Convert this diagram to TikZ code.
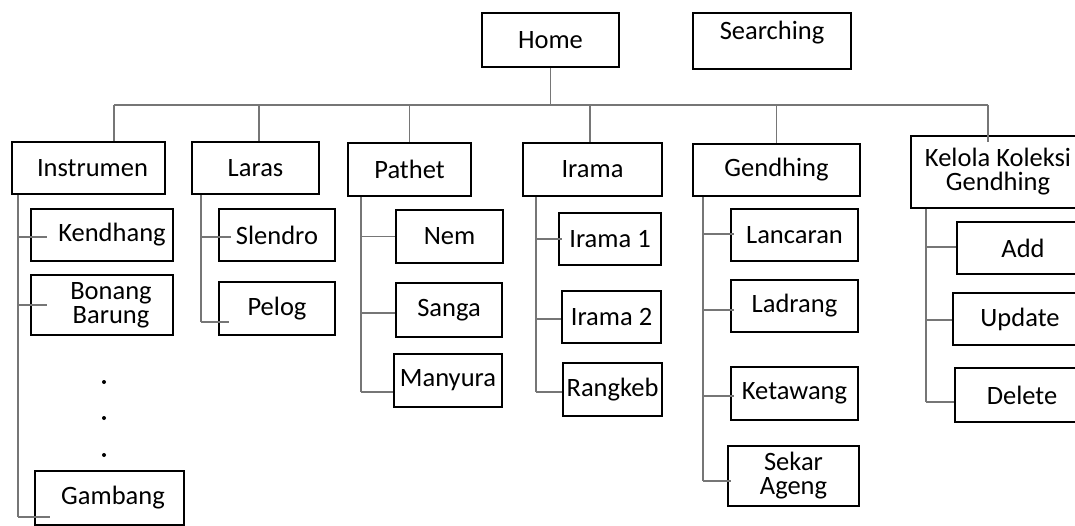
\documentclass[tikz,border=0pt]{standalone}
\usepackage{fontspec}
\setmainfont{Carlito}
\usepackage{tikz}
\usetikzlibrary{positioning}
\definecolor{link-grey}{HTML}{767676}
\newcommand{\branch}[4]{%  \branch{trunk}{node}{dy}{poke}
  \draw[link] ([yshift=#3]#2.west -| #1) -- ([xshift=#4,yshift=#3]#2.west);}

\begin{document}
\begin{tikzpicture}[x=1pt, y=-1pt,
    box/.style={draw=black, line width=1.9pt, inner sep=2pt, align=center,
                font=\fontsize{26.5}{24}\selectfont},
    link/.style={draw=link-grey, line width=1.4pt}]
        \useasboundingbox (0,0) rectangle (1075,526);
        \clip (0,0) rectangle (1075,526);

        % ── top row ──
        \node[box, minimum width=137pt, minimum height=54pt] (home) at (550.5,40) {Home};
        \node[box, minimum width=158pt, minimum height=56pt, text depth=21pt]
              (search) at (772,41) {Searching};

        % ── menu row ──
        \node[box, minimum width=153pt, minimum height=52pt] (instr) at (88.5,168) {\hspace*{8pt}Instrumen};
        \node[box, minimum width=127pt, minimum height=52pt] (laras) at (255.5,168) {Laras};
        \node[box, minimum width=123pt, minimum height=53pt] (pathet) at (409.5,169.5) {Pathet};
        \node[box, minimum width=139pt, minimum height=53pt] (irama) at (592.5,169.5) {Irama};
        \node[box, minimum width=167pt, minimum height=52pt] (gendhing) at (776.5,170) {Gendhing};
        \node[box, minimum width=174pt, minimum height=72pt] (kelola) at (998,172)
              {Kelola Koleksi\\Gendhing};

        % ── bus from Home ──
        \coordinate (bus) at (0,105);
        \draw[link] (home.south) -- (home.south |- bus);
        \draw[link] ([xshift=25.5pt]instr.north |- bus) -- ([xshift=-10pt]kelola.north |- bus);
        \draw[link] ([xshift=25.5pt]instr.north |- bus) -- ([xshift=25.5pt]instr.north);
        \draw[link] ([xshift=3.5pt]laras.north |- bus) -- ([xshift=3.5pt]laras.north);
        \draw[link] (pathet.north |- bus) -- (pathet.north);
        \draw[link] ([xshift=-2.5pt]irama.north |- bus) -- ([xshift=-2.5pt]irama.north);
        \draw[link] (gendhing.north |- bus) -- (gendhing.north);
        \draw[link] ([xshift=-10pt]kelola.north |- bus) -- ([xshift=-10pt,yshift=-7pt]kelola.north);

        % ── Instrumen ──
        \node[box, minimum width=142pt, minimum height=52pt] (kendhang) at (102,235) {\hspace*{20pt}Kendhang};
        \node[box, minimum width=142pt, minimum height=60pt] (bonang) at (102,305)
              {\hspace*{18pt}Bonang\\\hspace*{18pt}Barung};
        \node[box, minimum width=149pt, minimum height=54pt] (gambang) at (109.5,498) {\hspace*{7pt}Gambang};
        \foreach \y in {382,418,455}
          \fill (104,\y) circle (2pt);
        \coordinate (t1) at ([xshift=7pt]instr.south west);
        \draw[link] (t1) -- ([yshift=-19pt]gambang.west -| t1);
        \branch{t1}{kendhang}{-2pt}{17pt}
        \branch{t1}{bonang}{0pt}{17pt}
        \branch{t1}{gambang}{-19pt}{16pt}

        % ── Laras ──
        \node[box, minimum width=116pt, minimum height=52pt] (slendro) at (277,235) {Slendro};
        \node[box, minimum width=116pt, minimum height=53pt] (pelog) at (277,308.5) {Pelog};
        \coordinate (t2) at ([xshift=10pt]laras.south west);
        \draw[link] (t2) -- ([yshift=-13.5pt]pelog.west -| t2);
        \branch{t2}{slendro}{-2pt}{13pt}
        \branch{t2}{pelog}{-13.5pt}{11pt}

        % ── Pathet ──
        \node[box, minimum width=107pt, minimum height=53pt] (nem) at (449.5,236.5) {Nem};
        \node[box, minimum width=106pt, minimum height=54pt] (sanga) at (449,310) {Sanga};
        \node[box, minimum width=108pt, minimum height=53pt] (manyura) at (448,380.5) {Manyura};
        \coordinate (t3) at ([xshift=14pt]pathet.south west);
        \draw[link] (t3) -- ([yshift=-11.5pt]manyura.west -| t3);
        \branch{t3}{nem}{0pt}{0pt}
        \branch{t3}{sanga}{-3pt}{0pt}
        \branch{t3}{manyura}{-11.5pt}{0pt}

        % ── Irama ──
        \node[box, minimum width=102pt, minimum height=52pt] (irama1) at (610,239) {Irama 1};
        \node[box, minimum width=99pt, minimum height=52pt] (irama2) at (611.5,317) {Irama 2};
        \node[box, minimum width=99pt, minimum height=53pt, inner sep=0pt] (rangkeb) at (612.5,389.5) {Rangkeb};
        \coordinate (t4) at ([xshift=14pt]irama.south west);
        \draw[link] (t4) -- ([yshift=-2.5pt]rangkeb.west -| t4);
        \branch{t4}{irama1}{0pt}{4pt}
        \branch{t4}{irama2}{-2pt}{0pt}
        \branch{t4}{rangkeb}{-2.5pt}{0pt}

        % ── Gendhing ──
        \node[box, minimum width=127pt, minimum height=52pt] (lancaran) at (794.5,235) {Lancaran};
        \node[box, minimum width=127pt, minimum height=52pt] (ladrang) at (794.5,306) {Ladrang};
        \node[box, minimum width=127pt, minimum height=53pt] (ketawang) at (794.5,393.5) {Ketawang};
        \node[box, minimum width=131pt, minimum height=60pt] (sekar) at (793.5,476) {Sekar\\Ageng};
        \coordinate (t5) at ([xshift=11pt]gendhing.south west);
        \draw[link] (t5) -- ([yshift=-5pt]sekar.west -| t5);
        \branch{t5}{lancaran}{1pt}{4pt}
        \branch{t5}{ladrang}{-4pt}{4pt}
        \branch{t5}{ketawang}{-2.5pt}{4pt}
        \branch{t5}{sekar}{-5pt}{4pt}

        % ── Kelola Koleksi Gendhing ──
        \node[box, minimum width=132pt, minimum height=52pt] (add) at (1023,248) {Add};
        \node[box, minimum width=134pt, minimum height=52pt] (update) at (1020,319) {Update};
        \node[box, minimum width=134pt, minimum height=54pt] (delete) at (1022,395) {Delete};
        \coordinate (t6) at ([xshift=16pt]kelola.south west);
        \draw[link] (t6) -- ([yshift=-7pt]delete.west -| t6);
        \branch{t6}{add}{1pt}{0pt}
        \branch{t6}{update}{-1pt}{0pt}
        \branch{t6}{delete}{-7pt}{0pt}
      \end{tikzpicture}
\end{document}
